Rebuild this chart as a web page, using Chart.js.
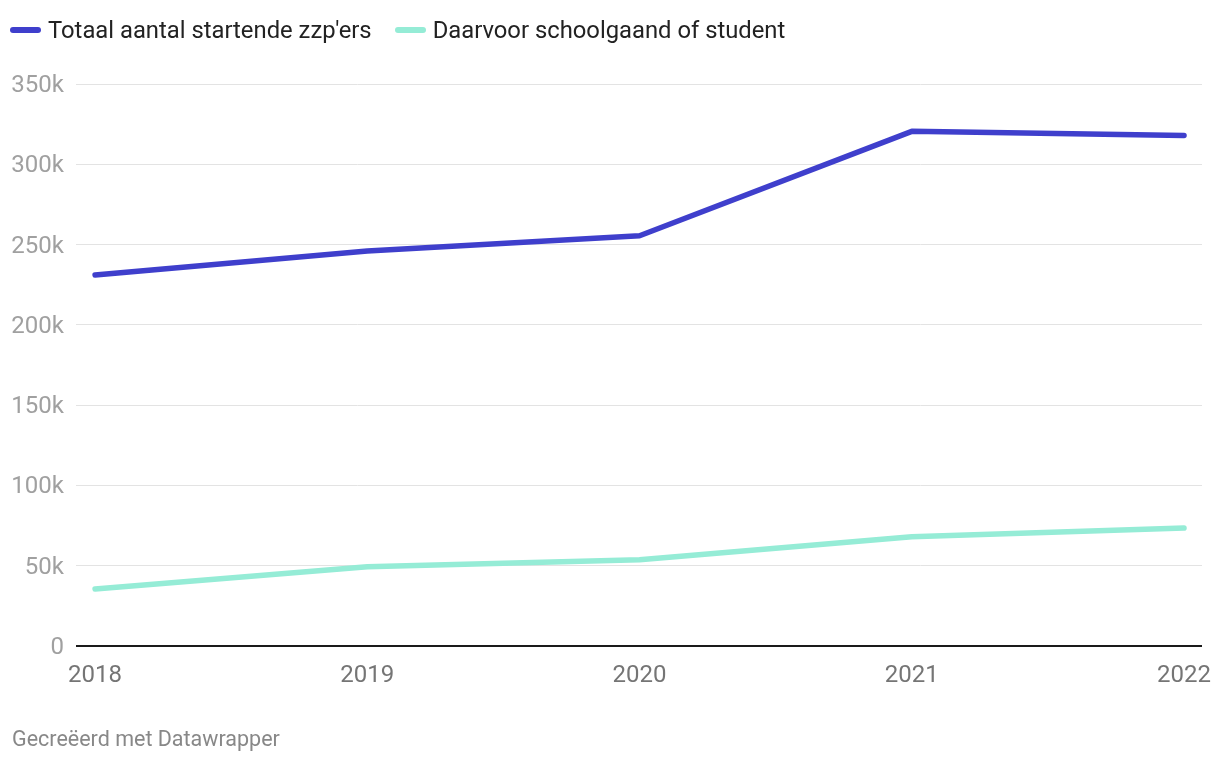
<!DOCTYPE html>
<html>
<head>
<meta charset="utf-8">
<script src="https://cdn.jsdelivr.net/npm/chart.js@4/dist/chart.umd.min.js"></script>
<style>
  html, body { margin: 0; padding: 0; background: #fff; }
  body { width: 1220px; height: 764px; position: relative; overflow: hidden; font-family: Roboto, "Noto Sans", sans-serif; }
  #legend { position: absolute; left: 10px; top: 16px; display: flex; align-items: center; font-size: 23.8px; color: #222; }
  .item { display: flex; align-items: center; margin-right: 23px; }
  .sw { display: inline-block; width: 31px; height: 6px; border-radius: 3px; margin-right: 7px; }
  #footer { position: absolute; left: 12px; top: 726px; font-size: 21.5px; color: #888; }
  #wrap { position: absolute; left: 0; top: 0; width: 1220px; height: 764px; }
</style>
</head>
<body>
<div id="wrap"><canvas id="c" width="1220" height="764"></canvas></div>
<div id="legend"></div>
<div id="footer">Gecreëerd met Datawrapper</div>
<script>
const years = [2018, 2019, 2020, 2021, 2022];
const seriesNames = ["Totaal aantal startende zzp'ers", "Daarvoor schoolgaand of student"];
const totaal = [231000, 246000, 255500, 320500, 318000];
const student = [35500, 49300, 53700, 68000, 73500];
const yTicks = [0, 50000, 100000, 150000, 200000, 250000, 300000, 350000];
const colors = ["#3f3fcc", "#95ecd6"];

const legend = document.getElementById('legend');
seriesNames.forEach((n, i) => {
  const it = document.createElement('div'); it.className = 'item';
  const sw = document.createElement('span'); sw.className = 'sw'; sw.style.background = colors[i];
  const t = document.createElement('span'); t.textContent = n;
  it.appendChild(sw); it.appendChild(t); legend.appendChild(it);
});

const mk = arr => years.map((y, i) => ({x: y, y: arr[i]}));

new Chart(document.getElementById('c'), {
  type: 'line',
  data: {
    datasets: [
      { label: seriesNames[0], data: mk(totaal), borderColor: colors[0], backgroundColor: colors[0] },
      { label: seriesNames[1], data: mk(student), borderColor: colors[1], backgroundColor: colors[1] }
    ]
  },
  options: {
    responsive: false,
    animation: false,
    layout: { padding: { left: 0, right: 18, top: 84, bottom: 78 } },
    elements: {
      line: { borderWidth: 5.5, tension: 0, borderCapStyle: 'round', borderJoinStyle: 'round' },
      point: { radius: 0, hoverRadius: 0 }
    },
    plugins: { legend: { display: false }, tooltip: { enabled: false } },
    scales: {
      x: {
        type: 'linear',
        min: 2017.930,
        max: 2022.066,
        afterBuildTicks: s => { s.ticks = years.map(v => ({value: v})); },
        afterFit: s => { s.height = 40; s.paddingLeft = 0; s.paddingRight = 0; },
        grid: { display: false, drawTicks: false },
        border: { display: false },
        ticks: { padding: 16, color: '#757575', font: { family: 'Roboto', size: 24 }, maxRotation: 0, autoSkip: false, callback: v => String(v) }
      },
      y: {
        min: 0,
        max: 350000,
        afterBuildTicks: s => { s.ticks = yTicks.map(v => ({value: v})); },
        afterFit: s => { s.width = 76; s.paddingTop = 0; s.paddingBottom = 0; },
        grid: {
          drawTicks: false,
          color: c => c.tick && c.tick.value === 0 ? '#1a1a1a' : '#e3e3e3',
          lineWidth: c => c.tick && c.tick.value === 0 ? 2 : 1
        },
        border: { display: false },
        ticks: { padding: 12, labelOffset: 2, color: '#a0a0a0', font: { family: 'Roboto', size: 24 }, callback: v => v === 0 ? '0' : (v / 1000) + 'k' }
      }
    }
  }
});
</script>
</body>
</html>
